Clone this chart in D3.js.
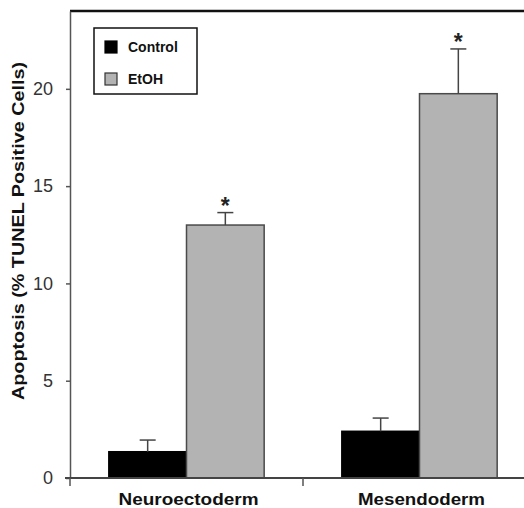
<!DOCTYPE html>
<html>
<head>
<meta charset="utf-8">
<script src="https://cdn.jsdelivr.net/npm/d3@7"></script>
<style>
  body { margin: 0; background: #fff; }
  svg { display: block; font-family: "Liberation Sans", Arial, sans-serif; }
</style>
</head>
<body>
<div id="chart"></div>
<script>
// data
let categories = ["Neuroectoderm", "Mesendoderm"];
let series = ["Control", "EtOH"];
let controlMeans = [1.35, 2.4];
let controlErr = [0.6, 0.68];
let etohMeans = [13.0, 19.75];
let etohErr = [0.64, 2.3];
let yTicks = [0, 5, 10, 15, 20];

let colors = { Control: "#000", EtOH: "#b3b3b3" };
let strokes = { Control: "#000", EtOH: "#4a4a4a" };

let width = 524, height = 508;

let svg = d3.select("#chart")
            .append("svg")
            .attr("width", width)
            .attr("height", height);

let y = d3.scaleLinear()
          .domain([0, 24])
          .range([478, 11]);

let x = d3.scaleBand()
          .domain(categories)
          .range([70, 536]);

let xInner = d3.scaleBand()
               .domain(series)
               .range([0, x.bandwidth()])
               .paddingOuter(0.5);

// flatten into rows
let rows = [];
categories.forEach((c, i) => {
    rows.push({cat: c, s: "Control", v: controlMeans[i], e: controlErr[i]});
    rows.push({cat: c, s: "EtOH", v: etohMeans[i], e: etohErr[i], star: true});
});

// top border of frame
svg.append("line")
   .attr("x1", x.range()[0]).attr("x2", width)
   .attr("y1", y(24)).attr("y2", y(24))
   .attr("stroke", "#111")
   .attr("stroke-width", 2.5);

// bars
svg.selectAll("rect.bar")
   .data(rows)
   .join("rect")
   .attr("class", "bar")
   .attr("x", d => x(d.cat) + xInner(d.s))
   .attr("width", xInner.bandwidth())
   .attr("y", d => y(d.v))
   .attr("height", d => y(0) - y(d.v))
   .attr("fill", d => colors[d.s])
   .attr("stroke", d => strokes[d.s])
   .attr("stroke-width", 1.5);

// error bars
let eb = svg.selectAll("g.err")
            .data(rows)
            .join("g")
            .attr("class", "err")
            .attr("transform", d => "translate(" + (x(d.cat) + xInner(d.s) + xInner.bandwidth() / 2) + ",0)");

eb.append("line")
  .attr("y1", d => y(d.v))
  .attr("y2", d => y(d.v + d.e))
  .attr("stroke", "#444")
  .attr("stroke-width", 1.5);

eb.append("line")
  .attr("x1", -8).attr("x2", 8)
  .attr("y1", d => y(d.v + d.e))
  .attr("y2", d => y(d.v + d.e))
  .attr("stroke", "#444")
  .attr("stroke-width", 1.5);

eb.filter(d => d.star)
  .append("text")
  .attr("text-anchor", "middle")
  .attr("y", d => y(d.v + d.e) + 1)
  .attr("font-size", 23)
  .attr("font-weight", "bold")
  .attr("fill", "#222")
  .text("*");

// y axis
let yAxis = svg.append("g")
               .attr("transform", "translate(" + x.range()[0] + ",0)")
               .call(d3.axisLeft(y).tickValues(yTicks).tickSize(4).tickPadding(13).tickSizeOuter(0));

yAxis.select(".domain").attr("stroke", "#555").attr("stroke-width", 1.5);
yAxis.selectAll(".tick line").attr("stroke", "#555").attr("stroke-width", 1.5);
yAxis.selectAll(".tick text")
     .attr("font-size", 18)
     .attr("font-family", "Liberation Sans, Arial, sans-serif")
     .attr("fill", "#333");

// x axis line and band edge ticks
svg.append("line")
   .attr("x1", 65).attr("x2", width)
   .attr("y1", y(0)).attr("y2", y(0))
   .attr("stroke", "#444")
   .attr("stroke-width", 2);

let edges = categories.map(c => x(c)).concat([x.range()[1]]);
svg.selectAll("line.xtick")
   .data(edges)
   .join("line")
   .attr("class", "xtick")
   .attr("x1", d => d).attr("x2", d => d)
   .attr("y1", y(0)).attr("y2", y(0) + 8)
   .attr("stroke", "#555")
   .attr("stroke-width", 1.5);

let labelLen = { Neuroectoderm: 140, Mesendoderm: 127 };
svg.selectAll("text.xlab")
   .data(categories)
   .join("text")
   .attr("class", "xlab")
   .attr("x", d => x(d) + x.bandwidth() / 2 + 2)
   .attr("y", 505)
   .attr("text-anchor", "middle")
   .attr("font-size", 17)
   .attr("font-weight", "bold")
   .attr("fill", "#111")
   .attr("textLength", d => labelLen[d])
   .attr("lengthAdjust", "spacingAndGlyphs")
   .text(d => d);

// y axis title
svg.append("text")
   .attr("transform", "translate(24,231) rotate(-90)")
   .attr("text-anchor", "middle")
   .attr("font-size", 17)
   .attr("font-weight", "bold")
   .attr("fill", "#111")
   .attr("textLength", 338)
   .attr("lengthAdjust", "spacingAndGlyphs")
   .text("Apoptosis (% TUNEL Positive Cells)");

// legend
let legend = svg.append("g").attr("transform", "translate(94,28)");
legend.append("rect")
      .attr("width", 103).attr("height", 66)
      .attr("fill", "#fff")
      .attr("stroke", "#111")
      .attr("stroke-width", 1.5);

let li = legend.selectAll("g.item")
               .data(series)
               .join("g")
               .attr("class", "item")
               .attr("transform", (d, i) => "translate(11," + (13 + i * 32) + ")");

li.append("rect")
  .attr("width", 12).attr("height", 12)
  .attr("fill", d => colors[d])
  .attr("stroke", d => d == "EtOH" ? "#333" : "#000")
  .attr("stroke-width", 1.2);

li.append("text")
  .attr("x", 23)
  .attr("y", 11)
  .attr("font-size", 14)
  .attr("font-weight", "bold")
  .attr("fill", "#111")
  .text(d => d);
</script>
</body>
</html>
